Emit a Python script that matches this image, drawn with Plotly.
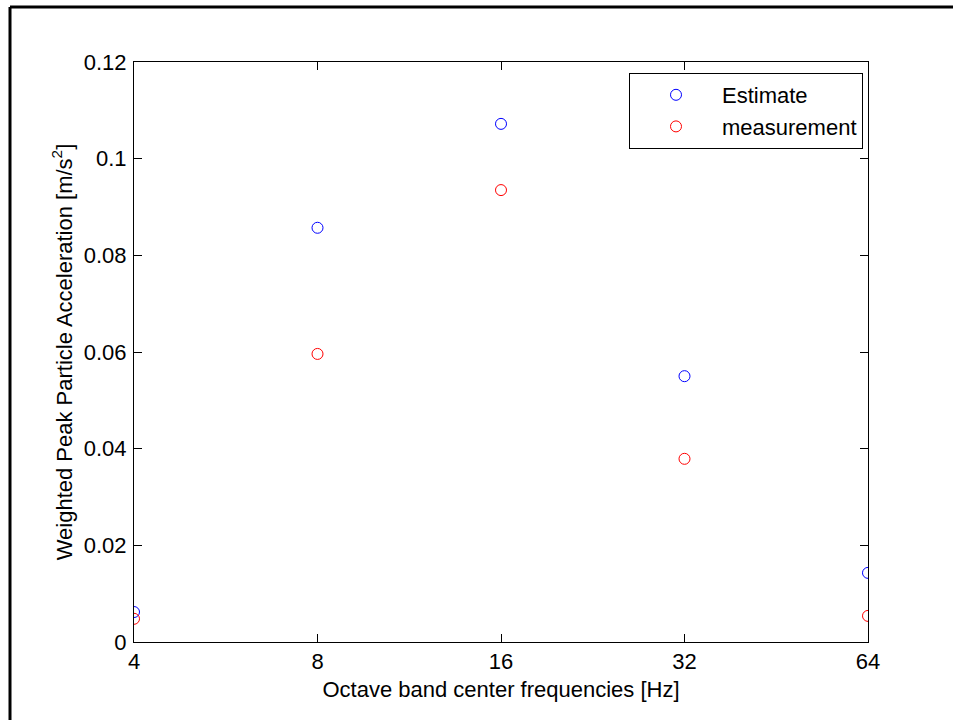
import plotly.graph_objects as go

# Octave band centre frequencies [Hz]
freqs = [4, 8, 16, 32, 64]
# Weighted peak particle acceleration [m/s^2]
estimate = [0.0062, 0.0857, 0.1072, 0.0550, 0.0143]
measurement = [0.0048, 0.0596, 0.0935, 0.0379, 0.0054]
y_ticks = [0, 0.02, 0.04, 0.06, 0.08, 0.1, 0.12]
y_tick_text = ["0", "0.02", "0.04", "0.06", "0.08", "0.1", "0.12"]

W, H = 953, 720
L, R, T, B = 134, 868, 62, 642

FONT = "Liberation Sans, Arial, Helvetica, sans-serif"
FS = 22

fig = go.Figure()
fig.add_trace(go.Scatter(
    x=freqs, y=estimate, mode="markers", name="Estimate",
    marker=dict(symbol="circle-open", size=11, color="#0000ff",
                line=dict(width=1, color="#0000ff")),
))
fig.add_trace(go.Scatter(
    x=freqs, y=measurement, mode="markers", name="measurement",
    marker=dict(symbol="circle-open", size=11, color="#ff0000",
                line=dict(width=1, color="#ff0000")),
))

def px_x(p):
    return (p - L) / (R - L)

def px_y(p):
    return (B - p) / (B - T)

# figure frame (left and top edges)
fig.add_shape(type="line", xref="paper", yref="paper",
              x0=px_x(10), x1=px_x(W + 5), y0=px_y(7), y1=px_y(7),
              line=dict(color="black", width=3))
fig.add_shape(type="line", xref="paper", yref="paper",
              x0=px_x(10), x1=px_x(10), y0=px_y(7), y1=px_y(H + 5),
              line=dict(color="black", width=3))

axis_common = dict(
    showline=True, linecolor="black", linewidth=1, mirror="allticks",
    ticks="inside", ticklen=8, tickwidth=1, tickcolor="black",
    showgrid=False, zeroline=False,
    tickfont=dict(family=FONT, size=FS, color="black"),
)

fig.update_layout(
    width=W, height=H,
    margin=dict(l=L, r=W - R, t=T, b=H - B),
    paper_bgcolor="white", plot_bgcolor="white",
    font=dict(family=FONT, size=FS, color="black"),
    showlegend=True,
    legend=dict(
        x=px_x(863), y=px_y(73), xanchor="right", yanchor="top",
        bgcolor="white", bordercolor="black", borderwidth=1,
        font=dict(family=FONT, size=FS, color="black"),
        itemwidth=82,
    ),
    xaxis=dict(
        type="log", range=[0.60206, 1.80618],
        tickvals=freqs, ticktext=[str(f) for f in freqs],
        title=dict(text="Octave band center frequencies [Hz]",
                   font=dict(family=FONT, size=FS), standoff=8),
        **axis_common,
    ),
    yaxis=dict(
        range=[0, 0.12], tickvals=y_ticks, ticktext=y_tick_text,
        ticklabelstandoff=2,
        title=dict(text="Weighted Peak Particle Acceleration [m/s<sup>2</sup>]",
                   font=dict(family=FONT, size=FS), standoff=5),
        **axis_common,
    ),
)

fig.write_html("out.html")
